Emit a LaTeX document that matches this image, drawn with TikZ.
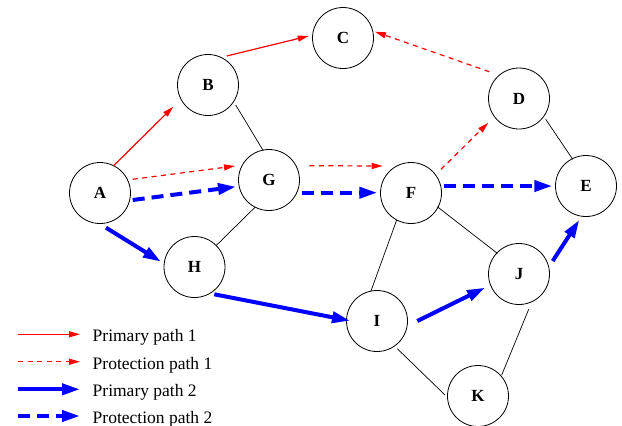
\documentclass[tikz,border=0pt]{standalone}
\usepackage{fontspec}
\setmainfont{Liberation Serif}
\usetikzlibrary{arrows.meta,calc}

\tikzset{
  vtx/.style={circle, draw=black, line width=0.8pt, minimum size=61pt, inner sep=0pt,
              font=\fontsize{17}{19}\selectfont\bfseries},
  link/.style={draw=black, line width=0.7pt},
  prim1/.style={draw=red, line width=1.2pt, -{Triangle[length=11pt,width=6pt]}},
  prot1/.style={prim1, dash pattern=on 5pt off 4.5pt},
  prim2/.style={draw=blue, line width=4pt, -{Triangle[length=18pt,width=11pt]}},
  prot2/.style={prim2, dash pattern=on 12pt off 7pt},
  legtext/.style={anchor=base west, inner sep=0pt, font=\fontsize{17.5}{20}\selectfont}
}

\begin{document}
\begin{tikzpicture}[x=1pt, y=-1pt]
  \useasboundingbox (0,0) rectangle (622,426);

  % network nodes
  \node[vtx] (A) at (100,193)   {A};
  \node[vtx] (B) at (208,85)    {B};
  \node[vtx] (C) at (343,38)    {C};
  \node[vtx] (D) at (519,98.5)  {D};
  \node[vtx] (E) at (586,186)   {E};
  \node[vtx] (F) at (411,193)   {F};
  \node[vtx] (G) at (269,180)   {G};
  \node[vtx] (H) at (194.5,267) {H};
  \node[vtx] (I) at (377,321)   {I};
  \node[vtx] (J) at (519,274)   {J};
  \node[vtx] (K) at (478,396)   {K};

  % plain links
  \draw[link] ($(B)+(27.7,20)$)   -- ($(G)+(-5.7,-29.3)$);
  \draw[link] ($(H)+(21.5,-21.3)$) -- ($(G)+(-14,27.3)$);
  \draw[link] ($(D)+(26.7,20.8)$) -- ($(E)+(-13.3,-26.7)$);
  \draw[link] ($(F)+(26.3,13.7)$) -- ($(J)+(-21.7,-20.7)$);
  \draw[link] ($(F)+(-14.3,27)$)  -- ($(I)+(-6.3,-29.3)$);
  \draw[link] ($(I)+(20.3,27.7)$) -- ($(K)+(-33,-1)$);
  \draw[link] ($(J)+(9.7,35.3)$)  -- ($(K)+(23.7,-21)$);

  % primary path 1
  \draw[prim1] ($(A)+(13.3,-27)$) -- ($(B)+(-34.7,21.7)$);
  \draw[prim1] ($(B)+(18.7,-29)$) -- ($(C)+(-34.3,-2)$);

  % protection path 1
  \draw[prot1] ($(A)+(32.7,-13.7)$) -- ($(G)+(-34,-14)$);
  \draw[prot1] ($(G)+(40.3,-14.3)$) -- ($(F)+(-28.3,-27)$);
  \draw[prot1] ($(F)+(30,-23.7)$)   -- ($(D)+(-30.7,24.2)$);
  \draw[prot1] ($(D)+(-29.7,-26.8)$) -- ($(C)+(32,-6.3)$);

  % primary path 2
  \draw[prim2] ($(A)+(6,34.7)$)    -- ($(H)+(-33.5,-5.3)$);
  \draw[prim2] ($(H)+(19.8,27.3)$) -- ($(I)+(-27,-0.3)$);
  \draw[prim2] ($(I)+(40.3,0)$)    -- ($(J)+(-34,13.7)$);
  \draw[prim2] ($(J)+(33.7,-13)$)  -- ($(E)+(-6.7,34)$);

  % protection path 2
  \draw[prot2] ($(A)+(32.7,7)$)    -- ($(G)+(-33,6.7)$);
  \draw[prot2] ($(G)+(32.7,12.7)$) -- ($(F)+(-33.7,-0.3)$);
  \draw[prot2] ($(F)+(33,-7)$)     -- ($(E)+(-33.7,0)$);

  % legend
  \coordinate (l1a) at (18,334.3); \coordinate (l1b) at (80,334.3);
  \coordinate (l2a) at (18,361.7); \coordinate (l2b) at (80,361.7);
  \coordinate (l3a) at (18,389.3); \coordinate (l3b) at (80,389.3);
  \coordinate (l4a) at (18,416);   \coordinate (l4b) at (80,416);
  \draw[prim1] (l1a) -- (l1b);
  \draw[prot1] (l2a) -- (l2b);
  \draw[prim2] (l3a) -- (l3b);
  \draw[prot2] (l4a) -- (l4b);
  \node[legtext] (t1) at (92.5,341.8) {Primary path 1};
  \node[legtext] (t2) at (92.5,369.2) {Protection path 1};
  \node[legtext] (t3) at (92.5,396.8) {Primary path 2};
  \node[legtext] (t4) at (92.5,423.5) {Protection path 2};
\end{tikzpicture}
\end{document}
